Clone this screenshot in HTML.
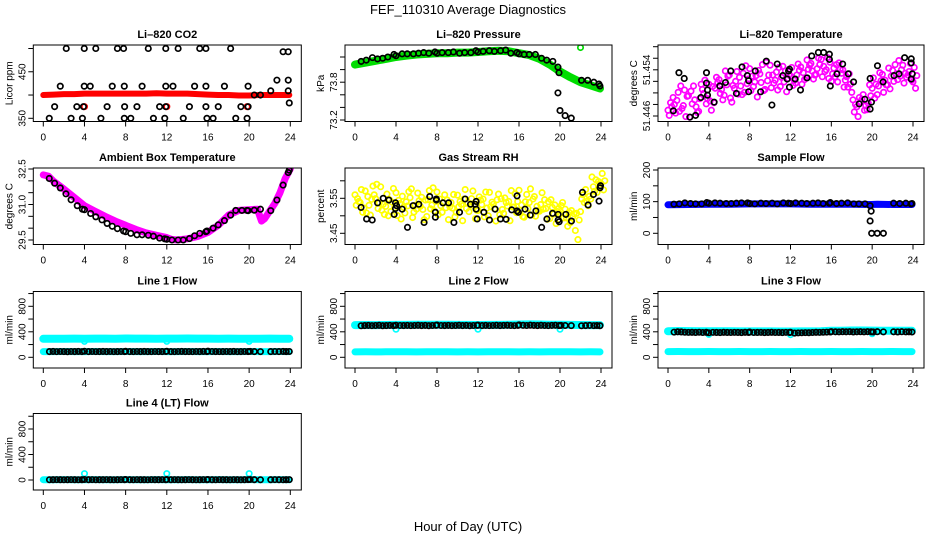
<!DOCTYPE html>
<html><head><meta charset="utf-8"><style>
html,body{margin:0;padding:0;background:#fff;}
svg{display:block;font-family:"Liberation Sans",Arial,sans-serif;}
</style></head><body>
<svg id="chart" width="936" height="540" viewBox="0 0 936 540" xmlns="http://www.w3.org/2000/svg">
<text x="468" y="14" font-size="13" text-anchor="middle">FEF_110310  Average Diagnostics</text>
<text x="468" y="531" font-size="13" text-anchor="middle">Hour of Day (UTC)</text>
</svg>
<script>
// ---------- data ----------
const xTicks = [0,4,8,12,16,20,24];
const hourly = [0,1,2,3,4,5,6,7,8,9,10,11,12,13,14,15,16,17,18,19,20,21,22,23,23.9];
const halfH = [0,0.5,1,1.5,2,2.5,3,3.5,4,4.5,5,5.5,6,6.5,7,7.5,8,8.5,9,9.5,10,10.5,11,11.5,12,12.5,13,13.5,14,14.5,15,15.5,16,16.5,17,17.5,18,18.5,19,19.5,20,20.5,21,21.5,22,22.5,23,23.5,24];

// CO2
const co2Band = [400,401,402,402,403,403,403,403,403,403,403,404,403,403,403,402,401,400,400,399,399,400,400,400,400];
const co2RedH = [4,12,19.8];
const co2Red = [375,375,375];
const co2BlackH = [2.23,3.98,5.1,7.2,7.8,10.2,11.9,13.1,15.2,15.8,18.2,23.3,23.8, 1.65,3.98,4.56,6.7,7.87,9.6,11.9,12.6,14.7,15.8,17.6,19.9, 1.1,3.26,3.9,6.2,7.9,9.1,11.3,11.9,14.2,15.8,17.0,19.2,19.9, 0.58,2.7,3.8,5.6,7.87,8.5,10.7,11.8,13.6,15.9,16.5,18.7,19.8, 20.5,21.1,22.1,22.7,23.8,23.8,23.9];
const co2Black = [500,500,500,500,500,500,500,500,500,500,500,493,493, 419,419,419,419,419,419,419,419,419,419,419,419, 375,375,375,375,375,375,375,375,375,375,375,375,375, 350,350,350,350,350,350,350,350,350,350,350,350,350, 400,400,409,432,432,409,383];

// Pressure
const presGreen = [74.08,74.11,74.14,74.17,74.2,74.22,74.24,74.25,74.26,74.26,74.27,74.27,74.28,74.29,74.3,74.29,74.26,74.23,74.17,74.08,73.97,73.88,73.8,73.75,73.70];
const presGreenOutH = [22];
const presGreenOut = [74.35];
const presBlackH = [0.6,1.1,1.7,2.2,2.7,3.2,3.8,4.0,4.6,5.1,5.7,6.2,6.7,7.2,7.8,8.0,8.5,9.1,9.6,10.2,10.7,11.3,11.8,12.0,12.5,13.1,13.6,14.2,14.7,15.2,15.8,16.0,16.5,17.0,17.6,18.2,18.7,19.3,19.8,19.9,19.8,20.0,20.5,21.1,22.1,22.7,23.3,23.8,23.9];
const presBlack = [74.13,74.15,74.19,74.17,74.18,74.20,74.24,74.22,74.25,74.25,74.25,74.26,74.27,74.26,74.28,74.26,74.27,74.27,74.28,74.26,74.27,74.27,74.30,74.28,74.29,74.30,74.29,74.30,74.31,74.26,74.27,74.25,74.24,74.24,74.24,74.18,74.15,74.13,74.04,73.95,73.63,73.35,73.27,73.23,73.83,73.83,73.80,73.77,73.74];

// Li-820 temperature
const tempA = [51.4470,51.4492,51.4501,51.4478,51.4495,51.4512,51.4468,51.4499,51.4515,51.4483,51.4523,51.4496,51.4531,51.4508,51.4527,51.4501,51.4542,51.4519,51.4533,51.4506,51.4548,51.4522,51.4511,51.4538,51.4529,51.4517,51.4545,51.4526,51.4551,51.4532,51.4558,51.4540,51.4520,51.4549,51.4534,51.4528,51.4501,51.4476,51.4489,51.4471,51.4508,51.4497,51.4532,51.4514,51.4539,51.4523,51.4548,51.4531,51.4519];
const tempB = [51.4461,51.4480,51.4468,51.4505,51.4458,51.4488,51.4490,51.4522,51.4486,51.4508,51.4499,51.4538,51.4491,51.4520,51.4512,51.4547,51.4504,51.4530,51.4518,51.4553,51.4509,51.4536,51.4527,51.4502,51.4544,51.4531,51.4515,51.4557,51.4538,51.4542,51.4528,51.4561,51.4533,51.4519,51.4540,51.4510,51.4488,51.4459,51.4497,51.4482,51.4526,51.4512,51.4501,51.4543,51.4520,51.4556,51.4517,51.4537,51.4544];
const tempC = [51.4483,51.4465,51.4512,51.4459,51.4503,51.4476,51.4515,51.4481,51.4470,51.4527,51.4506,51.4514,51.4484,51.4537,51.4497,51.4516,51.4529,51.4493,51.4549,51.4521,51.4531,51.4505,51.4546,51.4525,51.4513,51.4550,51.4535,51.4541,51.4524,51.4560,51.4546,51.4525,51.4543,51.4552,51.4510,51.4533,51.4467,51.4492,51.4470,51.4514,51.4491,51.4535,51.4522,51.4507,51.4549,51.4529,51.4534,51.4551,51.4508];
const tempD = [51.4476,51.4487,51.4473,51.4494,51.4481,51.4466,51.4506,51.4490,51.4511,51.4518,51.4488,51.4529,51.4513,51.4498,51.4534,51.4524,51.4511,51.4539,51.4504,51.4531,51.4517,51.4544,51.4519,51.4532,51.4522,51.4539,51.4523,51.4548,51.4531,51.4549,51.4537,51.4553,51.4528,51.4541,51.4522,51.4515,51.4480,51.4485,51.4478,51.4495,51.4515,51.4521,51.4514,51.4529,51.4533,51.4540,51.4527,51.4522,51.4530];
const tempBlackH = [0.52,1.07,1.59,2.15,2.70,3.22,3.77,3.77,3.87,3.87,4.52,5.07,5.63,6.15,6.70,7.25,7.77,7.90,7.90,8.55,9.07,9.63,10.18,10.70,11.25,11.68,11.81,11.90,11.90,12.46,12.98,13.63,14.08,14.73,15.25,15.81,15.81,15.90,16.55,17.11,17.66,18.18,18.73,19.28,19.80,19.80,19.93,20.52,21.07,22.14,22.63,23.18,23.83,23.83,23.83,23.93];
const tempBlack = [51.4469,51.4535,51.4525,51.4458,51.4461,51.4492,51.4535,51.4517,51.4505,51.4496,51.4484,51.4512,51.4518,51.4538,51.4499,51.4545,51.4530,51.4521,51.4502,51.4538,51.4502,51.4555,51.4479,51.4550,51.4530,51.4524,51.4538,51.4541,51.4510,51.4524,51.4505,51.4526,51.4564,51.4570,51.4570,51.4567,51.4558,51.4512,51.4533,51.4550,51.4533,51.4519,51.4481,51.4489,51.4525,51.4472,51.4484,51.4547,51.4519,51.4530,51.4533,51.4561,51.4559,51.4552,51.4524,51.4533];

// Ambient box temperature
const ambH = [0,0.5,1,2,3,4,5,6,7,8,9,10,11,12,12.5,13,14,15,16,17,18,19,20,20.8,21.2,21.5,22,22.5,23,23.5,24];
const ambVals = [32.25,32.2,31.98,31.65,31.3,30.95,30.72,30.5,30.3,30.12,29.95,29.8,29.7,29.6,29.52,29.5,29.55,29.65,29.82,30.12,30.55,30.75,30.78,30.8,30.3,30.4,30.72,31.05,31.5,32.1,32.5];
const ambBlackH = [0.58,1.1,1.65,2.2,2.7,3.3,3.8,4.0,4.6,5.1,5.7,6.2,6.7,7.2,7.8,8.0,8.5,9.1,9.6,10.2,10.7,11.3,11.8,12.0,12.5,13.1,13.6,14.2,14.7,15.2,15.8,15.9,16.5,17.0,17.6,18.2,18.7,19.3,19.8,19.9,20.5,21.1,22.1,22.7,23.3,23.8,23.9];
const ambBlack = [32.1,31.9,31.7,31.45,31.2,30.95,30.8,30.78,30.62,30.48,30.35,30.2,30.08,29.98,29.88,29.85,29.78,29.72,29.72,29.7,29.66,29.58,29.55,29.53,29.5,29.5,29.5,29.56,29.68,29.78,29.85,29.88,30.0,30.14,30.32,30.55,30.75,30.75,30.75,30.74,30.76,30.8,30.74,31.19,31.82,32.35,32.45];

// Gas stream RH
const rhA = [3.560,3.538,3.571,3.502,3.549,3.583,3.527,3.512,3.566,3.491,3.540,3.577,3.519,3.553,3.498,3.531,3.568,3.510,3.545,3.522,3.559,3.486,3.537,3.571,3.515,3.548,3.500,3.533,3.562,3.507,3.541,3.525,3.573,3.496,3.538,3.555,3.513,3.546,3.492,3.531,3.505,3.519,3.480,3.458,3.512,3.575,3.548,3.603,3.592];
const rhB = [3.530,3.575,3.508,3.547,3.590,3.516,3.562,3.539,3.501,3.556,3.528,3.495,3.565,3.518,3.546,3.580,3.503,3.537,3.489,3.561,3.526,3.548,3.512,3.530,3.554,3.497,3.567,3.520,3.503,3.551,3.486,3.563,3.515,3.540,3.577,3.499,3.532,3.521,3.546,3.478,3.529,3.494,3.515,3.507,3.548,3.541,3.611,3.567,3.621];
const rhC = [3.549,3.510,3.555,3.585,3.521,3.533,3.500,3.578,3.544,3.524,3.569,3.511,3.543,3.489,3.572,3.514,3.548,3.560,3.526,3.497,3.541,3.575,3.530,3.492,3.545,3.568,3.526,3.485,3.549,3.538,3.572,3.509,3.531,3.561,3.502,3.527,3.566,3.490,3.524,3.512,3.538,3.470,3.498,3.432,3.560,3.529,3.583,3.598,3.574];
const rhD = [3.541,3.522,3.530,3.560,3.537,3.504,3.546,3.523,3.535,3.508,3.552,3.530,3.527,3.545,3.520,3.541,3.529,3.523,3.538,3.510,3.533,3.521,3.549,3.516,3.532,3.522,3.539,3.546,3.518,3.528,3.525,3.541,3.498,3.521,3.548,3.515,3.519,3.540,3.505,3.521,3.494,3.510,3.506,3.488,3.538,3.556,3.570,3.582,3.600];
const rhBlackH = [0.59,1.13,1.68,2.20,2.75,3.30,3.82,3.95,3.95,4.05,4.60,5.12,5.67,6.22,6.74,7.29,7.84,7.84,7.94,7.94,8.58,9.13,9.65,10.20,10.75,11.27,11.73,11.82,11.82,11.92,12.57,13.12,13.67,14.19,14.74,15.29,15.81,15.81,15.94,16.59,17.10,17.65,18.21,18.72,19.27,19.82,19.82,19.92,20.57,21.12,22.19,22.74,23.26,23.81,23.91,23.95];
const rhBlack = [3.524,3.491,3.488,3.537,3.550,3.545,3.504,3.521,3.537,3.529,3.519,3.467,3.529,3.533,3.481,3.555,3.510,3.496,3.548,3.545,3.537,3.537,3.481,3.510,3.548,3.533,3.533,3.541,3.519,3.491,3.510,3.488,3.519,3.491,3.490,3.517,3.514,3.557,3.510,3.519,3.502,3.514,3.467,3.491,3.507,3.504,3.488,3.483,3.504,3.485,3.567,3.531,3.561,3.542,3.580,3.586];

// Sample flow
const sampleBandH = [0,2,4,6,8,10,12,14,16,18,19.9,20.5,22,23.9];
const sampleBand = [90,91,92,92,93,93,93,92,92,92,91,92,91,91];
const sampleBlack = [92,93,96,94,93,93,97,95,96,95,94,94,95,96,96,94,93,95,94,95,93,96,95,94,96,95,94,95,96,94,95,97,94,95,96,93,93,93,87,70,0,0,95,94,95,93,94];
const sampleExtraH = [19.8,19.95];
const sampleExtra = [39,0];

// Flow panels
const flowH = [0.6,0.95,1.3,1.65,2.0,2.35,2.7,3.05,3.4,3.75,4.0,4.4,4.75,5.1,5.45,5.8,6.15,6.5,6.85,7.2,7.55,7.9,8.0,8.4,8.75,9.1,9.45,9.8,10.15,10.5,10.85,11.2,11.55,11.9,12.0,12.4,12.75,13.1,13.45,13.8,14.15,14.5,14.85,15.2,15.55,15.9,16.0,16.4,16.75,17.1,17.45,17.8,18.15,18.5,18.85,19.2,19.55,19.9,20.1,20.5,21.1,22.1,22.5,22.9,23.3,23.6,23.9];
const line1Black = [90,92,89,91,90,88,91,90,92,89,95,90,91,89,90,92,90,91,89,90,91,90,94,90,89,91,90,92,90,89,91,90,90,91,95,90,89,91,92,90,90,89,91,90,92,90,96,91,90,89,90,91,90,92,89,90,91,90,93,90,89,90,91,90,92,90,91];
const line2Black = [495,498,500,497,499,501,496,498,500,497,502,499,498,500,497,499,501,498,500,496,499,501,505,499,498,500,497,499,501,498,500,496,499,501,503,498,500,497,499,501,498,500,502,499,497,500,508,501,499,503,500,498,501,499,497,500,502,498,500,499,497,495,498,500,497,499,496];
const line3Black = [395,400,398,393,391,392,390,393,389,392,385,391,390,388,392,390,389,391,390,388,392,390,396,389,390,391,388,390,392,389,390,388,391,390,392,380,383,385,387,386,389,392,391,393,395,398,402,400,399,401,400,402,398,400,401,399,402,400,398,401,399,400,398,401,399,400,397];
const line4Black = [4,5,6,5,4,5,6,5,4,5,8,5,6,4,5,5,6,5,4,5,6,5,8,5,4,6,5,5,4,6,5,5,6,4,8,5,6,5,4,5,6,5,4,5,6,5,8,5,4,6,5,5,4,6,5,4,5,6,8,5,4,5,6,5,4,5,6];
const line1CyanHi = [290,292,291,293,292,294,293,292,295,294,293,292,293,294,295,294,293,292,293,292,291,292,293,292,291];
const line1CyanLo = [90,90,91,90,90,91,90,90,91,90,90,91,90,90,91,90,90,91,90,90,91,90,90,91,90];
const line2CyanHi = [505,506,505,507,508,509,510,511,512,510,509,508,507,508,509,512,515,516,514,512,510,508,506,505,505];
const line2CyanLo = [85,86,85,86,87,86,85,86,87,86,85,86,85,86,87,86,85,86,85,86,87,86,85,86,85];
const line3CyanHi = [410,412,411,410,409,408,408,407,407,406,406,405,405,406,407,408,415,418,420,420,419,418,417,416,415];
const line3CyanLo = [90,91,90,90,91,90,90,91,90,90,91,90,90,91,90,90,91,90,90,91,90,90,91,90,90];
const line4Cyan = [5,5,6,5,5,6,5,5,6,5,5,6,5,5,6,5,5,6,5,5,6,5,5,6,5];
const dipH = [4,12,20];
const line1Dip = [250,250,250];
const line2Dip = [440,440,440];
const line3Dip = [360,355,370];
const line4Dip = [100,100,100];

// ---------- drawing ----------
const svg = document.getElementById('chart');
const NS = 'http://www.w3.org/2000/svg';
function mk(tag, attrs, parent) {
  const e = document.createElementNS(NS, tag);
  for (const k in attrs) e.setAttribute(k, attrs[k]);
  (parent || svg).appendChild(e);
  return e;
}
const cols = [33.3, 345, 658];
const widths = [268, 267, 266];
const rows = [45, 168, 291.5, 413.5];
const H = 76.5;

function makePanel(slug, col, row, title, ytitle, ref, ticks, labels) {
  const x0 = cols[col], w = widths[col], y0 = rows[row];
  const g = mk('g', {});
  
  
  const p = {g, x0, w, y0,
    hx: h => x0 + 10 + h * (w - 21) / 24,
    vy: v => ref[1] + (v - ref[0]) * (ref[3] - ref[1]) / (ref[2] - ref[0])};
  const t = mk('text', {x: x0 + w / 2, y: y0 - 7, 'font-size': 11, 'font-weight': 'bold', 'text-anchor': 'middle'}, g);
  t.textContent = title;
  
  
  const yt = mk('text', {x: 0, y: 0, 'font-size': 10, 'text-anchor': 'middle', transform: 'translate(' + (x0 - 21) + ',' + (y0 + H / 2) + ') rotate(-90)'}, g);
  yt.textContent = ytitle;
  
  
  xTicks.forEach(h => {
    const x = p.hx(h);
    mk('line', {x1: x, x2: x, y1: y0 + H, y2: y0 + H + 5, stroke: '#000', 'stroke-width': 1}, g);
    const lt = mk('text', {x: x, y: y0 + H + 19, 'font-size': 10, 'text-anchor': 'middle'}, g);
    lt.textContent = h;
    
    
  });
  ticks.forEach(v => {
    const y = p.vy(v);
    mk('line', {x1: x0 - 5, x2: x0, y1: y, y2: y, stroke: '#000', 'stroke-width': 1}, g);
  });
  labels.forEach(l => {
    const y = p.vy(l[0]);
    const lt = mk('text', {x: 0, y: 0, 'font-size': 10, 'text-anchor': 'middle', transform: 'translate(' + (x0 - 8) + ',' + y + ') rotate(-90)'}, g);
    lt.textContent = l[1];
    
    
  });
  p.clipId = 'clip-' + slug;
  const cp = mk('clipPath', {id: p.clipId}, g);
  mk('rect', {x: x0, y: y0, width: w, height: H}, cp);
  p.data = mk('g', {'clip-path': 'url(#' + p.clipId + ')'}, g);
  
  
  const box = mk('rect', {x: x0, y: y0, width: w, height: H, fill: 'none', stroke: '#000', 'stroke-width': 1}, g);
  
  
  p.box = box;
  return p;
}
function pts(p, hs, vs, color, name, dx) {
  const n = Math.min(hs.length, vs.length);
  for (let i = 0; i < n; i++) {
    const c = mk('circle', {cx: p.hx(hs[i] + (dx || 0)), cy: p.vy(vs[i]), r: 2.7, fill: 'none', stroke: color, 'stroke-width': 1.7}, p.data);
    
    
  }
}
function band(p, hs, vs, color, sw, name) {
  const n = Math.min(hs.length, vs.length);
  let d = '';
  for (let i = 0; i < n; i++) d += (i ? 'L' : 'M') + p.hx(hs[i]).toFixed(1) + ',' + p.vy(vs[i]).toFixed(1);
  const e = mk('path', {d: d, fill: 'none', stroke: color, 'stroke-width': sw, 'stroke-linejoin': 'round', 'stroke-linecap': 'round'}, p.data);
  
  
}

// CO2
const pCO2 = makePanel('co2', 0, 0, 'Li\u2013820 CO2', 'Licor ppm', [350, 118.3, 500, 48.5], [350,400,450,500], [[350,'350'],[450,'450']]);
band(pCO2, hourly, co2Band, '#ff0000', 6, 'co2-band');
pts(pCO2, co2RedH, co2Red, '#ff0000', 'co2-red-point');
pts(pCO2, co2BlackH, co2Black, '#000', 'co2-point');

// Pressure
const pP = makePanel('pressure', 1, 0, 'Li\u2013820 Pressure', 'kPa', [73.2, 120, 74.2, 57], [73.2,73.4,73.6,73.8,74.0,74.2], [[73.2,'73.2'],[73.8,'73.8']]);
band(pP, hourly, presGreen, '#00dd00', 8, 'pressure-band');
pts(pP, presGreenOutH, presGreenOut, '#00dd00', 'pressure-green-point');
pts(pP, presBlackH, presBlack, '#000', 'pressure-point');

// Temperature
const pT = makePanel('temperature', 2, 0, 'Li\u2013820 Temperature', 'degrees C', [51.446, 116, 51.454, 69.8], [51.446,51.448,51.450,51.452,51.454,51.456,51.458], [[51.446,'51.446'],[51.454,'51.454']]);
pts(pT, halfH, tempA, '#ff00ff', 'temp-magenta-point', 0);
pts(pT, halfH, tempB, '#ff00ff', 'temp-magenta-point', 0.12);
pts(pT, halfH, tempC, '#ff00ff', 'temp-magenta-point', 0.25);
pts(pT, halfH, tempD, '#ff00ff', 'temp-magenta-point', 0.37);
pts(pT, tempBlackH, tempBlack, '#000', 'temp-point');

// Ambient
const pA = makePanel('ambient', 0, 1, 'Ambient Box Temperature', 'degrees C', [29.5, 240, 32.5, 169], [29.5,30,30.5,31,31.5,32,32.5], [[29.5,'29.5'],[31,'31.0'],[32.5,'32.5']]);
band(pA, ambH, ambVals, '#ff00ff', 7, 'ambient-band');
pts(pA, ambBlackH, ambBlack, '#000', 'ambient-point');

// RH
const pR = makePanel('rh', 1, 1, 'Gas Stream RH', 'percent', [3.45, 233.3, 3.55, 198.3], [3.45,3.50,3.55,3.60], [[3.45,'3.45'],[3.55,'3.55']]);
pts(pR, halfH, rhA, '#ffff00', 'rh-yellow-point', 0);
pts(pR, halfH, rhB, '#ffff00', 'rh-yellow-point', 0.12);
pts(pR, halfH, rhC, '#ffff00', 'rh-yellow-point', 0.25);
pts(pR, halfH, rhD, '#ffff00', 'rh-yellow-point', 0.37);
pts(pR, rhBlackH, rhBlack, '#000', 'rh-point');

// Sample flow
const pS = makePanel('sample-flow', 2, 1, 'Sample Flow', 'ml/min', [0, 233.3, 200, 170], [0,50,100,150,200], [[0,'0'],[100,'100'],[200,'200']]);
band(pS, sampleBandH, sampleBand, '#0000ff', 7, 'sample-band');
pts(pS, ambBlackH, sampleBlack, '#000', 'sample-point');
pts(pS, sampleExtraH, sampleExtra, '#000', 'sample-point');

// Flow panels
const flowTicks = [0,200,400,600,800,1000];
const flowLabels = [[0,'0'],[400,'400'],[800,'800']];
const pL1 = makePanel('line1-flow', 0, 2, 'Line 1 Flow', 'ml/min', [0, 357.3, 800, 306.3], flowTicks, flowLabels);
band(pL1, hourly, line1CyanHi, '#00ffff', 8, 'line1-cyan-high');
band(pL1, hourly, line1CyanLo, '#00ffff', 7, 'line1-cyan-low');
pts(pL1, dipH, line1Dip, '#00ffff', 'line1-cyan-point');
pts(pL1, flowH, line1Black, '#000', 'line1-point');

const pL2 = makePanel('line2-flow', 1, 2, 'Line 2 Flow', 'ml/min', [0, 357.3, 800, 306.3], flowTicks, flowLabels);
band(pL2, hourly, line2CyanHi, '#00ffff', 8, 'line2-cyan-high');
band(pL2, hourly, line2CyanLo, '#00ffff', 7, 'line2-cyan-low');
pts(pL2, dipH, line2Dip, '#00ffff', 'line2-cyan-point');
pts(pL2, flowH, line2Black, '#000', 'line2-point');

const pL3 = makePanel('line3-flow', 2, 2, 'Line 3 Flow', 'ml/min', [0, 357.3, 800, 306.3], flowTicks, flowLabels);
band(pL3, hourly, line3CyanHi, '#00ffff', 8, 'line3-cyan-high');
band(pL3, hourly, line3CyanLo, '#00ffff', 7, 'line3-cyan-low');
pts(pL3, dipH, line3Dip, '#00ffff', 'line3-cyan-point');
pts(pL3, flowH, line3Black, '#000', 'line3-point');

const pL4 = makePanel('line4-flow', 0, 3, 'Line 4 (LT) Flow', 'ml/min', [0, 480, 800, 429], flowTicks, flowLabels);
band(pL4, hourly, line4Cyan, '#00ffff', 7, 'line4-cyan');
pts(pL4, dipH, line4Dip, '#00ffff', 'line4-cyan-point');
pts(pL4, flowH, line4Black, '#000', 'line4-point');
</script>
</body></html>
